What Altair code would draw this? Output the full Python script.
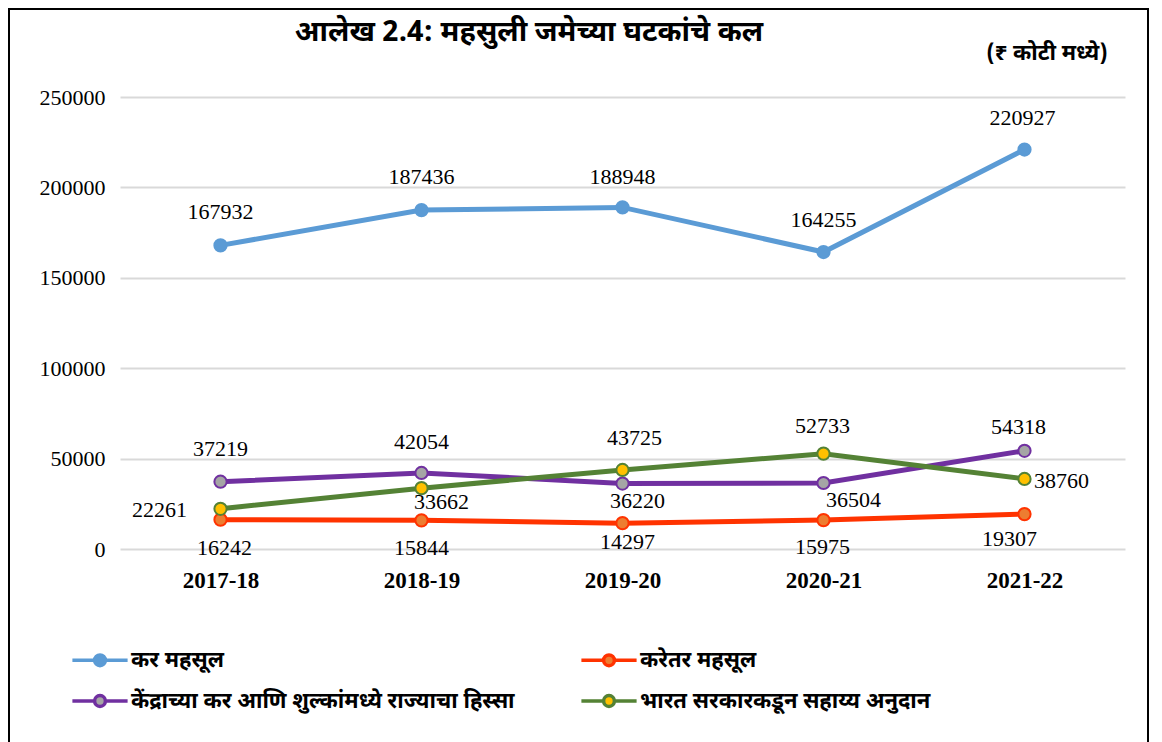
import altair as alt
import pandas as pd

# ---------------- data ----------------
YEARS = ["2017-18", "2018-19", "2019-20", "2020-21", "2021-22"]
SERIES = [
    "कर महसूल",
    "करेतर महसूल",
    "केंद्राच्या कर आणि शुल्कांमध्ये राज्याचा हिस्सा",
    "भारत सरकारकडून सहाय्य अनुदान",
]
KAR_MAHSUL = [167932, 187436, 188948, 164255, 220927]
KARETAR_MAHSUL = [16242, 15844, 14297, 15975, 19307]
KENDRA_HISSA = [37219, 42054, 36220, 36504, 54318]
SAHAYYA_ANUDAN = [22261, 33662, 43725, 52733, 38760]
Y_TICKS = [0, 50000, 100000, 150000, 200000, 250000]

TITLE = "आलेख 2.4: महसुली जमेच्या घटकांचे कल"
UNIT = "(₹ कोटी  मध्ये)"

# ---------------- styles ----------------
LINE_COLORS = ["#5B9BD5", "#FF3300", "#7030A0", "#548235"]
MARKER_FILLS = ["#5B9BD5", "#ED7D31", "#A5A5A5", "#FFC000"]
DEV_FONT = "Noto Sans Devanagari, Noto Sans, Lohit Devanagari, sans-serif"
SERIF = "Liberation Serif, Times New Roman, serif"

# legend fills column by column: order so rows read (0,1) / (2,3)
LEGEND_ORDER = [0, 2, 1, 3]

# label offsets (dx, dy) in pixels relative to each point, per series
LABEL_OFFSETS = [
    [(0, -33), (0, -33), (0, -30), (0, -32), (-2, -32)],
    [(4, 28), (0, 28), (5, 19), (-1, 27), (-15, 25)],
    [(0, -33), (0, -31), (15, 17), (30, 17), (-6, -24)],
    [(-61, 1), (20, 14), (12, -32), (-1, -28), (37, 2)],
]

W, H = 1005, 452

values = [KAR_MAHSUL, KARETAR_MAHSUL, KENDRA_HISSA, SAHAYYA_ANUDAN]
rows = []
for si, (s, vals) in enumerate(zip(SERIES, values)):
    for yi, (yr, v) in enumerate(zip(YEARS, vals)):
        rows.append({"series": s, "year": yr, "value": v, "si": si, "yi": yi})
df = pd.DataFrame(rows)

x_enc = alt.X("year:N", sort=YEARS, scale=alt.Scale(type="point", padding=0.5),
              axis=alt.Axis(title=None, labelAngle=0, ticks=False, domain=False,
                            labelFont=SERIF, labelFontSize=23, labelFontWeight="bold",
                            labelColor="#000000", labelPadding=20, grid=False))
y_enc = alt.Y("value:Q", scale=alt.Scale(domain=[0, 250000], nice=False),
              axis=alt.Axis(title=None, values=Y_TICKS, format="d", ticks=False,
                            domain=False, labelFont=SERIF, labelFontSize=22,
                            labelColor="#000000", labelPadding=15,
                            gridColor="#D9D9D9", gridWidth=2))

SYMBOL = ("M-4.6,0L-0.9,0M0.9,0L4.6,0"
          "M-0.9,0A0.9,0.9,0,1,0,0.9,0A0.9,0.9,0,1,0,-0.9,0Z")
legend = alt.Legend(title=None, orient="none", legendX=-31, legendY=552,
                    columns=2, columnPadding=59, rowPadding=15, padding=0,
                    symbolType=SYMBOL, symbolSize=144, symbolStrokeWidth=3.5,
                    labelFont=DEV_FONT, labelFontSize=22, labelFontWeight="bold",
                    labelColor="#000000", labelOffset=20, labelLimit=700)

dom = [SERIES[i] for i in LEGEND_ORDER]
stroke_enc = alt.Stroke("series:N",
                        scale=alt.Scale(domain=dom, range=[LINE_COLORS[i] for i in LEGEND_ORDER]),
                        legend=legend)
fill_enc = alt.Fill("series:N",
                    scale=alt.Scale(domain=dom, range=[MARKER_FILLS[i] for i in LEGEND_ORDER]),
                    legend=legend)

base = alt.Chart(df)
lines = base.mark_line(strokeWidth=5).encode(x=x_enc, y=y_enc, stroke=stroke_enc,
                                             order=alt.Order("yi:Q"))
points = base.mark_point(filled=True, size=150, strokeWidth=2, opacity=1).encode(
    x=x_enc, y=y_enc, stroke=stroke_enc, fill=fill_enc)

label_layers = []
for si in range(len(SERIES)):
    for yi in range(len(YEARS)):
        dx, dy = LABEL_OFFSETS[si][yi]
        label_layers.append(
            base.transform_filter((alt.datum.si == si) & (alt.datum.yi == yi))
            .mark_text(font=SERIF, fontSize=22, color="#000000", dx=dx, dy=dy,
                       align="center", baseline="middle")
            .encode(x=x_enc, y=y_enc, text=alt.Text("value:Q", format="d"))
        )

title_df = pd.DataFrame({"t": [TITLE]})
unit_df = pd.DataFrame({"t": [UNIT]})
frame_df = pd.DataFrame({"f": [1]})

title = alt.Chart(title_df).mark_text(font=DEV_FONT, fontSize=29, fontWeight="bold",
                                      color="#000000", align="center",
                                      baseline="middle").encode(
    text="t:N", x=alt.value(409), y=alt.value(-65))
unit = alt.Chart(unit_df).mark_text(font=DEV_FONT, fontSize=22, fontWeight="bold",
                                    color="#000000", align="center",
                                    baseline="middle").encode(
    text="t:N", x=alt.value(927), y=alt.value(-44))
frame = alt.Chart(frame_df).mark_rect(fill="transparent", stroke="#000000",
                                      strokeWidth=2).encode(
    x=alt.value(-111), x2=alt.value(1028), y=alt.value(-88), y2=alt.value(H + 200))

chart = alt.layer(frame, lines, points, *label_layers, title, unit).properties(
    width=W, height=H,
    padding={"left": 112, "top": 89, "right": 29, "bottom": 193},
    autosize=alt.AutoSizeParams(type="none"),
    background="#FFFFFF",
).configure_view(stroke=None)

chart.save("out.html", embed_options={"renderer": "svg", "actions": False})
